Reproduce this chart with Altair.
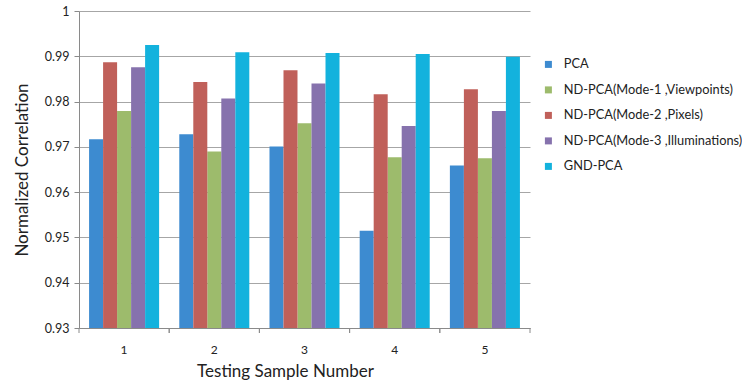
import altair as alt
import pandas as pd

# Test samples and methods
samples = ["1", "2", "3", "4", "5"]
legend_order = [
    "PCA",
    "ND-PCA(Mode-1 ,Viewpoints)",
    "ND-PCA(Mode-2 ,Pixels)",
    "ND-PCA(Mode-3 ,Illuminations)",
    "GND-PCA",
]
# Order of the bars inside each group
bar_order = [
    "PCA",
    "ND-PCA(Mode-2 ,Pixels)",
    "ND-PCA(Mode-1 ,Viewpoints)",
    "ND-PCA(Mode-3 ,Illuminations)",
    "GND-PCA",
]
colors = ["#3d8bd0", "#9dbb6c", "#c0605a", "#8672ad", "#13b2dd"]

pca = [0.9717, 0.9728, 0.9701, 0.9515, 0.9659]
mode1 = [0.9779, 0.9690, 0.9752, 0.9677, 0.9675]
mode2 = [0.9887, 0.9843, 0.9869, 0.9816, 0.9827]
mode3 = [0.9876, 0.9807, 0.9840, 0.9746, 0.9779]
gnd = [0.9925, 0.9909, 0.9907, 0.9905, 0.9899]

series_values = [pca, mode1, mode2, mode3, gnd]
rows = []
for name, vals in zip(legend_order, series_values):
    for s, v in zip(samples, vals):
        rows.append({"sample": s, "method": name, "value": v})
df = pd.DataFrame(rows)

W, H = 451, 317
FONT = "Lato"

x_enc = alt.X(
    "sample:N",
    sort=samples,
    scale=alt.Scale(paddingInner=0, paddingOuter=0),
    axis=alt.Axis(
        title="Testing Sample Number",
        labelAngle=0,
        ticks=False,
        grid=False,
        domainColor="#8a8a8a",
        labelPadding=16,
        labelFontSize=12,
        labelColor="#222222",
        titleFontSize=17,
        titleFontWeight="normal",
        titleColor="#222222",
        titlePadding=8,
        titleX=206,
    ),
)

bars = alt.Chart(df).mark_bar().encode(
    x=x_enc,
    xOffset=alt.XOffset(
        "method:N",
        sort=bar_order,
        scale=alt.Scale(paddingInner=0, paddingOuter=0.72),
    ),
    y=alt.Y(
        "value:Q",
        scale=alt.Scale(domain=[0.93, 1.0], zero=False, nice=False),
        axis=alt.Axis(
            title="Normalized Correlation",
            values=[0.93, 0.94, 0.95, 0.96, 0.97, 0.98, 0.99, 1.0],
            labelExpr="datum.value == 1 ? '1' : format(datum.value, '.2f')",
            gridColor="#a6a6a6",
            gridWidth=1,
            domainColor="#8a8a8a",
            tickColor="#8a8a8a",
            tickSize=5,
            labelPadding=5,
            labelFontSize=12.5,
            labelColor="#222222",
            titleFontSize=17,
            titleFontWeight="normal",
            titleColor="#222222",
            titlePadding=13,
        ),
    ),
    y2=alt.datum(0.93),
    color=alt.Color(
        "method:N",
        scale=alt.Scale(domain=legend_order, range=colors),
        legend=alt.Legend(
            title=None,
            orient="none",
            legendX=463,
            legendY=47,
            symbolType="square",
            symbolSize=49,
            symbolStrokeWidth=0,
            labelFontSize=12.8,
            labelColor="#222222",
            labelOffset=9,
            rowPadding=11.5,
            labelLimit=300,
        ),
    ),
)

# Small tick marks at the group boundaries below the x axis
bounds = pd.DataFrame({"sample": samples})
ticks_start = alt.Chart(bounds).mark_rule(color="#8a8a8a").encode(
    x=alt.X("sample:N", sort=samples, bandPosition=0),
    y=alt.value(H),
    y2=alt.value(H + 5),
)
ticks_end = alt.Chart(bounds).mark_rule(color="#8a8a8a").encode(
    x=alt.X("sample:N", sort=samples, bandPosition=1),
    y=alt.value(H),
    y2=alt.value(H + 5),
)

chart = (
    alt.layer(bars, ticks_start, ticks_end)
    .properties(
        width=W,
        height=H,
        autosize=alt.AutoSizeParams(type="none"),
        padding={"left": 79, "top": 11, "right": 212, "bottom": 57},
    )
    .configure(font=FONT)
    .configure_view(strokeWidth=0)
)

chart.save("out.html", embed_options={"renderer": "svg", "actions": False})
